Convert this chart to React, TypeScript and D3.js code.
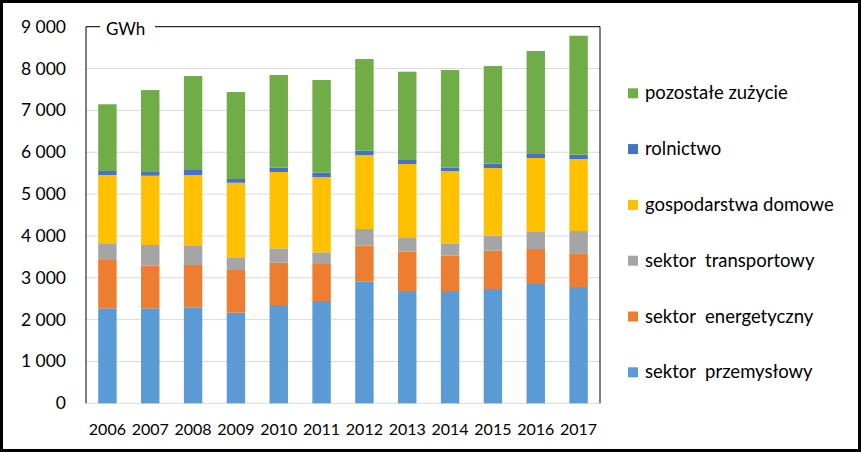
import React, { useEffect } from "react";
import * as d3 from "d3";

const years = ["2006","2007","2008","2009","2010","2011","2012","2013","2014","2015","2016","2017"];
const przemyslowy = [2270, 2270, 2294, 2165, 2349, 2444, 2906, 2683, 2683, 2731, 2851, 2779];
const energetyczny = [1154, 1018, 1011, 1020, 1011, 885, 860, 940, 844, 916, 836, 805];
const transportowy = [400, 495, 454, 304, 343, 279, 399, 327, 296, 358, 406, 533];
const gospodarstwa = [1632, 1656, 1696, 1782, 1824, 1799, 1768, 1768, 1728, 1618, 1769, 1721];
const rolnictwo = [96, 88, 120, 89, 103, 104, 103, 96, 79, 103, 95, 103];
const pozostale = [1594, 1959, 2246, 2078, 2215, 2215, 2191, 2110, 2334, 2334, 2462, 2843];
const yTicks = [0, 1000, 2000, 3000, 4000, 5000, 6000, 7000, 8000, 9000];

const seriesNames = ["sektor  przemysłowy", "sektor  energetyczny", "sektor  transportowy", "gospodarstwa domowe", "rolnictwo", "pozostałe zużycie"];
const seriesValues = [przemyslowy, energetyczny, transportowy, gospodarstwa, rolnictwo, pozostale];
const colors = ["#5b9bd5", "#ed7d31", "#a5a5a5", "#ffc000", "#4472c4", "#70ad47"];

const W = 861, H = 452;
const FONT = "Lato, 'Open Sans', sans-serif";

export default function App() {
  useEffect(() => { document.body.style.margin = "0"; }, []);
  const x = d3.scaleBand().domain(years).range([86, 600]).paddingInner(0.57).paddingOuter(0.285);
  const y = d3.scaleLinear().domain([0, 9000]).range([403.3, 26.7]);
  const rows = years.map((yr, i) => {
    const o: any = { year: yr };
    seriesNames.forEach((n, k) => (o[n] = seriesValues[k][i]));
    return o;
  });
  const stacked = d3.stack().keys(seriesNames)(rows);
  const fmt = (v: number) => d3.format(",")(v).replace(",", " ");
  const legendOrder = [...seriesNames.map((n, k) => k)].reverse();
  return (
    <svg width={W} height={H} style={{ display: "block", position: "absolute", left: 0, top: 0, fontFamily: FONT }}>
      <rect x={0} y={0} width={W} height={H} fill="#fff" />
      {yTicks.map((t) => (
        <line key={t} x1={86} x2={600} y1={y(t)} y2={y(t)} stroke="#d9d9d9" strokeWidth={1} />
      ))}
      {stacked.map((s, k) => (
        <g key={k} fill={colors[k]}>
          {s.map((d, i) => (
            <rect key={i} x={x(years[i])} width={x.bandwidth()} y={y(d[1])} height={y(d[0]) - y(d[1])} />
          ))}
        </g>
      ))}
      <path d={`M86,${y(0)}V${y(9000)}H600V${y(0)}`} fill="none" stroke="#000" strokeWidth={1} />
      <rect x={100} y={18} width={55} height={18} fill="#fff" />
      <text x={106} y={35} fontSize={17} fill="#000">GWh</text>
      {yTicks.map((t) => (
        <text key={t} x={66} y={y(t) + 6} fontSize={17.5} textAnchor="end" fill="#000">{fmt(t)}</text>
      ))}
      {years.map((yr) => (
        <text key={yr} x={(x(yr) as number) + x.bandwidth() / 2} y={435} fontSize={16} textAnchor="middle" fill="#000">{yr}</text>
      ))}
      {legendOrder.map((k, j) => {
        const cy = 93.3 + j * 55.8;
        return (
          <g key={k}>
            <rect x={628} y={cy - 5} width={10} height={10} fill={colors[k]} />
            <text x={645} y={cy + 6} fontSize={18.5} fill="#000" style={{ whiteSpace: "pre" }}>{seriesNames[k]}</text>
          </g>
        );
      })}
      <rect x={1.5} y={1.5} width={W - 3} height={H - 3} fill="none" stroke="#000" strokeWidth={3} />
    </svg>
  );
}
